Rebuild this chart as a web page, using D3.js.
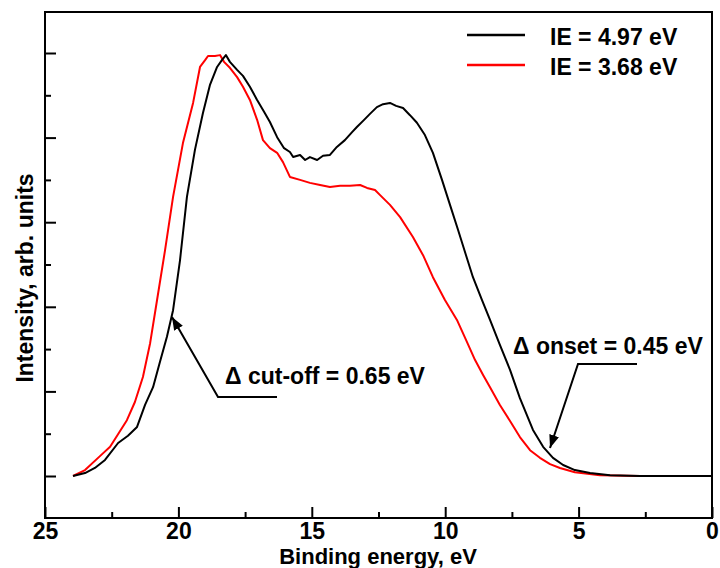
<!DOCTYPE html>
<html>
<head>
<meta charset="utf-8">
<script src="https://cdn.jsdelivr.net/npm/d3@7"></script>
<style>
  body { margin: 0; background: #fff; }
  text { font-family: "Liberation Sans", Arial, sans-serif; font-weight: bold; }
</style>
</head>
<body>
<div id="chart"></div>
<script>
// spectrum IE = 4.97 eV (black)
var blackE = [23.95, 23.5, 23.13, 22.75, 22.26, 21.89, 21.55, 21.25, 20.95, 20.69, 20.43, 20.2, 19.94, 19.68, 19.38, 19.08, 18.82, 18.55, 18.37, 18.22, 18.07, 17.8, 17.58, 17.32, 17.05, 16.79, 16.57, 16.3, 16.04, 15.82, 15.7, 15.44, 15.25, 15.07, 14.8, 14.58, 14.32, 14.06, 13.76, 13.49, 13.31, 13.04, 12.82, 12.56, 12.33, 12.07, 11.84, 11.58, 11.32, 11.06, 10.76, 10.46, 10.12, 9.82, 9.52, 9.22, 8.96, 8.62, 8.32, 7.95, 7.57, 7.2, 6.71, 6.33, 5.96, 5.58, 5.14, 4.57, 3.82, 2.7, 0];
var blackI = [0, 0.007, 0.019, 0.038, 0.078, 0.095, 0.116, 0.168, 0.21, 0.27, 0.329, 0.392, 0.51, 0.66, 0.771, 0.858, 0.924, 0.967, 0.983, 0.995, 0.979, 0.96, 0.946, 0.92, 0.889, 0.861, 0.837, 0.801, 0.775, 0.766, 0.754, 0.759, 0.747, 0.754, 0.747, 0.757, 0.759, 0.778, 0.794, 0.813, 0.825, 0.842, 0.856, 0.872, 0.879, 0.882, 0.875, 0.87, 0.853, 0.835, 0.806, 0.764, 0.7, 0.641, 0.582, 0.522, 0.47, 0.416, 0.369, 0.31, 0.251, 0.184, 0.109, 0.069, 0.043, 0.026, 0.014, 0.007, 0.002, 0, 0];

// spectrum IE = 3.68 eV (red)
var redE = [23.95, 23.5, 22.94, 22.56, 21.93, 21.63, 21.33, 21.06, 20.8, 20.5, 20.2, 19.83, 19.45, 19.19, 19.0, 18.89, 18.63, 18.44, 18.29, 18.07, 17.8, 17.58, 17.32, 17.05, 16.83, 16.57, 16.3, 16.08, 15.82, 15.44, 15.07, 14.69, 14.32, 13.94, 13.57, 13.19, 12.93, 12.63, 12.44, 12.07, 11.69, 11.21, 10.83, 10.46, 10.01, 9.56, 9.22, 8.88, 8.58, 8.32, 7.95, 7.57, 7.2, 6.82, 6.45, 6.07, 5.7, 5.14, 4.2, 2.7, 0];
var redI = [0, 0.014, 0.047, 0.069, 0.132, 0.175, 0.234, 0.314, 0.416, 0.534, 0.66, 0.787, 0.882, 0.967, 0.983, 0.993, 0.993, 0.995, 0.979, 0.965, 0.943, 0.92, 0.889, 0.842, 0.794, 0.775, 0.764, 0.742, 0.707, 0.7, 0.693, 0.688, 0.683, 0.686, 0.686, 0.688, 0.681, 0.676, 0.664, 0.641, 0.612, 0.565, 0.522, 0.47, 0.416, 0.369, 0.322, 0.274, 0.239, 0.21, 0.168, 0.13, 0.092, 0.061, 0.043, 0.028, 0.019, 0.009, 0.002, 0, 0];

var xMajor = [25, 20, 15, 10, 5, 0];
var xMinor = [22.5, 17.5, 12.5, 7.5, 2.5];
var yMajor = [0, 0.2, 0.4, 0.6, 0.8, 1.0];
var yMinor = [0.1, 0.3, 0.5, 0.7, 0.9];
var legendLabels = ["IE = 4.97 eV", "IE = 3.68 eV"];
var colors = ["#000000", "#ff0000"];

var width = 720, height = 568;
// plot frame edges (note: "top" is taken by window.top, so prefix them)
var frameL = 45, frameR = 712, frameT = 12, frameB = 518;

var svg = d3.select("#chart")
    .append("svg")
    .attr("width", width)
    .attr("height", height);

var x = d3.scaleLinear().domain([25, 0]).range([frameL, frameR]);
var y = d3.scaleLinear().domain([0, 1]).range([476, 53]);

function thick(g) {
    g.select(".domain").remove();
    g.selectAll("line").attr("stroke-width", 2);
}

// axes, ticks point inwards
svg.append("g")
    .attr("transform", "translate(0," + frameB + ")")
    .call(d3.axisBottom(x).tickValues(xMajor).tickSizeInner(-11).tickSizeOuter(0).tickPadding(5).tickFormat(d3.format("d")))
    .call(thick)
    .call(function(g) {
        g.selectAll("text").attr("font-size", 23).attr("fill", "#000")
            .attr("font-family", "'Liberation Sans', Arial, sans-serif").attr("font-weight", "bold");
    });
svg.append("g")
    .attr("transform", "translate(0," + frameB + ")")
    .call(d3.axisBottom(x).tickValues(xMinor).tickSizeInner(-6).tickSizeOuter(0).tickFormat(""))
    .call(thick);

svg.append("g")
    .attr("transform", "translate(" + frameL + ",0)")
    .call(d3.axisLeft(y).tickValues(yMajor).tickSizeInner(-11).tickSizeOuter(0).tickFormat(""))
    .call(thick);
svg.append("g")
    .attr("transform", "translate(" + frameL + ",0)")
    .call(d3.axisLeft(y).tickValues(yMinor).tickSizeInner(-6).tickSizeOuter(0).tickFormat(""))
    .call(thick);

// frame
svg.append("rect")
    .attr("x", frameL).attr("y", frameT)
    .attr("width", frameR - frameL).attr("height", frameB - frameT)
    .attr("fill", "none").attr("stroke", "#000").attr("stroke-width", 2);

var line = d3.line()
    .x(function(d) { return x(d[0]); })
    .y(function(d) { return y(d[1]); });

var series = [d3.zip(blackE, blackI), d3.zip(redE, redI)];
// red drawn first so black sits on top like the original
svg.append("path").datum(series[1]).attr("d", line)
    .attr("fill", "none").attr("stroke", colors[1]).attr("stroke-width", 2).attr("stroke-linejoin", "round");
svg.append("path").datum(series[0]).attr("d", line)
    .attr("fill", "none").attr("stroke", colors[0]).attr("stroke-width", 2).attr("stroke-linejoin", "round");

// axis titles
svg.append("text")
    .attr("x", 378).attr("y", 564)
    .attr("text-anchor", "middle").attr("font-size", 22)
    .text("Binding energy, eV");
svg.append("text")
    .attr("transform", "translate(33,278) rotate(-90)")
    .attr("text-anchor", "middle").attr("font-size", 23)
    .text("Intensity, arb. units");

// legend
legendLabels.forEach(function(lbl, i) {
    var ly = 35 + i * 30;
    svg.append("line")
        .attr("x1", 467).attr("x2", 525).attr("y1", ly).attr("y2", ly)
        .attr("stroke", colors[i]).attr("stroke-width", 2.5);
    svg.append("text")
        .attr("x", 550).attr("y", ly + 10)
        .attr("font-size", 23)
        .text(lbl);
});

// annotations
svg.append("defs").append("marker")
    .attr("id", "arrow")
    .attr("viewBox", "0 0 10 10")
    .attr("refX", 10).attr("refY", 5)
    .attr("markerWidth", 13).attr("markerHeight", 10)
    .attr("markerUnits", "userSpaceOnUse")
    .attr("orient", "auto")
    .attr("preserveAspectRatio", "none")
    .append("path").attr("d", "M0,0 L10,5 L0,10 z").attr("fill", "#000");

function annotate(txt, tx, ty, hx1, hx2, hy, tipX, tipY) {
    svg.append("polyline")
        .attr("points", hx2 + "," + hy + " " + hx1 + "," + hy + " " + tipX + "," + tipY)
        .attr("fill", "none").attr("stroke", "#000").attr("stroke-width", 2)
        .attr("marker-end", "url(#arrow)");
    svg.append("text")
        .attr("x", tx).attr("y", ty)
        .attr("font-size", 23)
        .text(txt);
}
annotate("\u0394 cut-off = 0.65 eV", 225, 384, 218, 277, 397, 172, 317);
annotate("\u0394 onset = 0.45 eV", 513, 354, 578, 637, 364, 550, 448);
</script>
</body>
</html>
